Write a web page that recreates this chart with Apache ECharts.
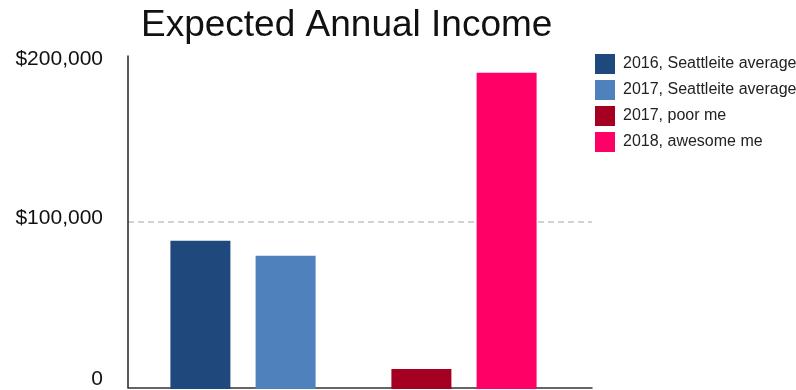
<!DOCTYPE html>
<html>
<head>
<meta charset="utf-8">
<script src="https://cdn.jsdelivr.net/npm/echarts@6/dist/echarts.min.js"></script>
<style>
html, body {margin: 0; padding: 0; background: #fff;}
#main {width: 796px; height: 390px;}
</style>
</head>
<body>
<div id="main"></div>
<script>
var seriesNames = ['2016, Seattleite average', '2017, Seattleite average', '2017, poor me', '2018, awesome me'];
var incomes = [89000, 80000, 12000, 190000];
var groupOf = [0, 0, 1, 1];          // which pair of bars each series sits in
var groupNames = ['Seattleite', 'me'];
var yTicks = [0, 100000, 200000];
var colors = ['#1f497d', '#4f81bd', '#a50021', '#ff0066'];

var font = 'Liberation Sans, Arial, sans-serif';
var myChart = echarts.init(document.getElementById('main'));

// grid 0 carries the visible axes, grids 1 and 2 hold the two bar pairs
var grids = [
    {left: 128, right: 204, top: 56, bottom: 1},
    {left: 128, width: 230, top: 56, bottom: 1},
    {left: 349, width: 230, top: 56, bottom: 1}
];

// small nudges so the tick labels sit where the original put them
var labelPad = {0: [0, 0, 16, 0], 100000: [0, 0, 8, 0], 200000: [6, 0, 0, 0]};
var rich = {};
yTicks.forEach(function (t) {
    rich['t' + t] = {fontSize: 21, fontFamily: font, color: '#111', padding: labelPad[t]};
});

var xAxes = [{
    gridIndex: 0,
    type: 'category',
    data: [''],
    axisLine: {show: true, lineStyle: {color: '#333', width: 1.5}},
    axisTick: {show: false},
    axisLabel: {show: false}
}];
var yAxes = [{
    gridIndex: 0,
    type: 'value',
    min: yTicks[0],
    max: yTicks[yTicks.length - 1],
    interval: yTicks[1] - yTicks[0],
    axisLine: {show: true, lineStyle: {color: '#222', width: 1.5}},
    axisTick: {show: false},
    splitLine: {
        show: true,
        showMinLine: false,
        showMaxLine: false,
        lineStyle: {color: '#c4c4c4', type: [6, 4], width: 1.5}
    },
    axisLabel: {
        margin: 25,
        fontSize: 21,
        color: '#111',
        fontFamily: font,
        formatter: function (v) {
            var txt = v === 0 ? '0' : '$' + v.toLocaleString('en-US');
            return '{t' + v + '|' + txt + '}';
        },
        rich: rich
    }
}];
groupNames.forEach(function (g, i) {
    xAxes.push({gridIndex: i + 1, type: 'category', data: [g], show: false});
    yAxes.push({gridIndex: i + 1, type: 'value', min: yTicks[0], max: yTicks[yTicks.length - 1], show: false});
});

var series = seriesNames.map(function (name, i) {
    return {
        name: name,
        type: 'bar',
        xAxisIndex: groupOf[i] + 1,
        yAxisIndex: groupOf[i] + 1,
        barWidth: 60,
        barGap: '42%',
        itemStyle: {color: colors[i]},
        data: [incomes[i]]
    };
});

option = {
    backgroundColor: '#fff',
    animation: false,
    title: {
        text: 'Expected Annual Income',
        left: 136,
        top: 2,
        textStyle: {fontSize: 37, fontWeight: 'normal', color: '#111', fontFamily: font}
    },
    legend: {
        orient: 'vertical',
        left: 595,
        top: 54,
        padding: 0,
        itemWidth: 20,
        itemHeight: 20,
        itemGap: 6,
        icon: 'rect',
        data: seriesNames,
        textStyle: {fontSize: 16, color: '#222', fontFamily: font, padding: [0, 0, 2, 3]}
    },
    grid: grids,
    xAxis: xAxes,
    yAxis: yAxes,
    series: series
};
myChart.setOption(option);
window.onresize = myChart.resize;
</script>
</body>
</html>
